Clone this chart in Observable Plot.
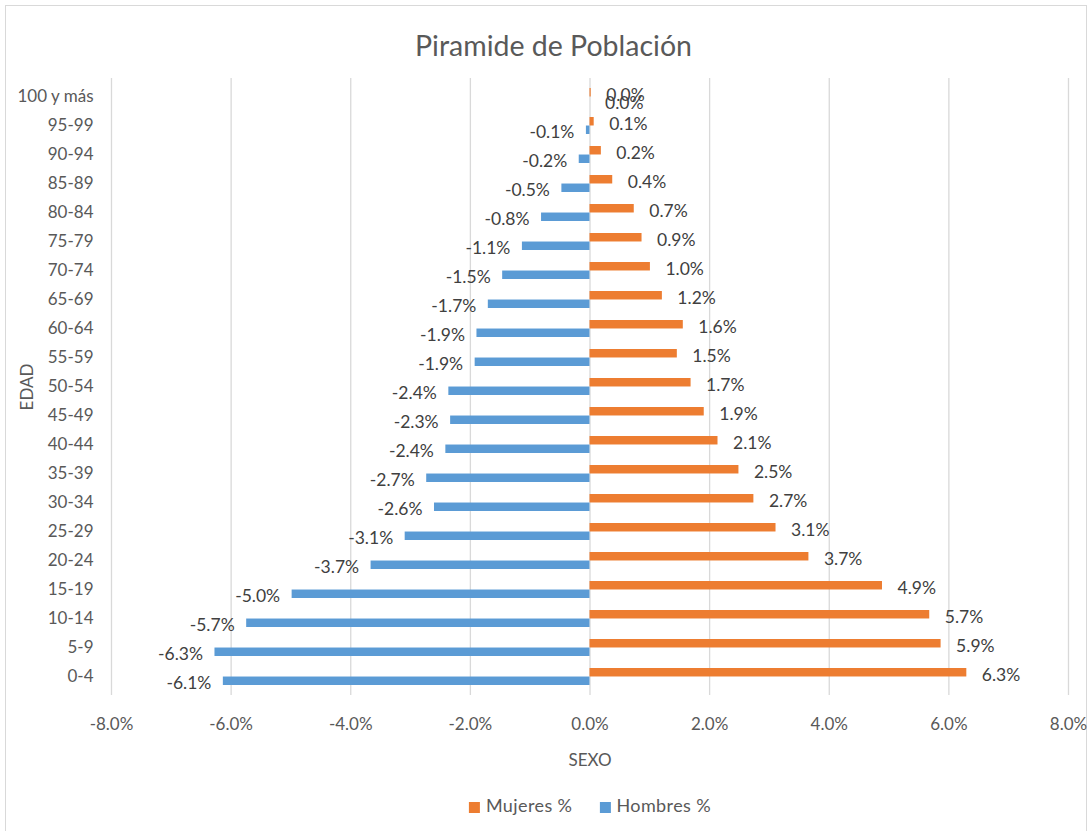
<!DOCTYPE html>
<html>
<head>
<meta charset="utf-8">
<script src="https://cdn.jsdelivr.net/npm/d3@7"></script>
<script src="https://cdn.jsdelivr.net/npm/@observablehq/plot@0.6"></script>
<style>
  html, body { margin: 0; padding: 0; background: #fff; }
  #wrap { position: relative; width: 1091px; height: 831px; overflow: hidden; font-family: Lato, "Open Sans", sans-serif; }
  #border { position: absolute; left: 5px; top: 5px; width: 1082px; height: 860px; border: 1px solid #d9d9d9; box-sizing: border-box; }
  #title { position: absolute; left: 0; top: 26px; width: 1091px; padding-left: 16px; box-sizing: border-box; text-align: center; font-size: 28.5px; color: #595959; line-height: 38px; }
  #chart { position: absolute; left: 0; top: 60px; }
  #legend { position: absolute; left: 590px; top: 794px; transform: translateX(-50%); display: flex; align-items: center; gap: 27px; font-size: 18px; letter-spacing: 0.4px; color: #595959; white-space: nowrap; line-height: 22px; }
  .sw { display: inline-block; width: 11px; height: 11px; margin-right: 6px; vertical-align: -1px; }
</style>
</head>
<body>
<div id="wrap">
  <div id="border"></div>
  <div id="title">Piramide de Población</div>
  <div id="chart"></div>
  <div id="legend">
    <span><span class="sw" style="background:#ED7D31"></span>Mujeres %</span>
    <span><span class="sw" style="background:#5B9BD5"></span>Hombres %</span>
  </div>
</div>
<script>
const ages = ["0-4","5-9","10-14","15-19","20-24","25-29","30-34","35-39","40-44","45-49","50-54","55-59","60-64","65-69","70-74","75-79","80-84","85-89","90-94","95-99","100 y más"];
const mujeres = [6.30,5.87,5.68,4.89,3.66,3.11,2.74,2.49,2.14,1.91,1.69,1.46,1.56,1.21,1.01,0.87,0.74,0.38,0.19,0.07,0.02];
const hombres = [-6.13,-6.27,-5.74,-4.98,-3.66,-3.09,-2.60,-2.73,-2.41,-2.33,-2.36,-1.92,-1.89,-1.70,-1.46,-1.13,-0.81,-0.47,-0.18,-0.06,0];
const xTicks = [-8,-6,-4,-2,0,2,4,6,8];

const women = ages.map((a, i) => ({age: a, v: mujeres[i]}));
const men = ages.map((a, i) => ({age: a, v: hombres[i]}));
const fmt = v => v.toFixed(1) + "%";

const H = 720, mT = 18, mB = 85;
const step = (H - mT - mB) / ages.length;
const bw = step * 0.58;
const half = bw / 2;

const chart = Plot.plot({
  width: 1091,
  height: H,
  marginLeft: 111,
  marginRight: 23,
  marginTop: mT,
  marginBottom: mB,
  style: {fontFamily: "Lato, 'Open Sans', sans-serif", fontSize: "17px", color: "#595959", background: "transparent", overflow: "visible"},
  x: {domain: [-8, 8]},
  y: {domain: ages.slice().reverse(), paddingInner: 0.42, paddingOuter: 0.21},
  marks: [
    Plot.gridX(xTicks, {stroke: "#d9d9d9", strokeOpacity: 1, strokeWidth: 1.3}),
    Plot.barX(women, {x: "v", y: "age", fill: "#ED7D31", insetBottom: half}),
    Plot.barX(men, {x: "v", y: "age", fill: "#5B9BD5", insetTop: half}),
    Plot.text(women, {x: "v", y: "age", text: d => fmt(d.v), textAnchor: "start", dx: 15, dy: -2, fill: "#404040", fontSize: 17.5}),
    Plot.text(men.filter(d => d.v < 0), {x: "v", y: "age", text: d => fmt(d.v), textAnchor: "end", dx: -12, dy: 6, fill: "#404040", fontSize: 17.5}),
    Plot.text(men.filter(d => d.v >= 0), {x: "v", y: "age", text: d => fmt(d.v), textAnchor: "start", dx: 15, dy: 6, fill: "#404040", fontSize: 17.5}),
    Plot.axisX(xTicks, {tickSize: 0, tickPadding: 22, tickFormat: fmt, label: "SEXO", labelAnchor: "center", labelOffset: 70, labelArrow: "none", fill: "#595959"}),
    Plot.axisY({tickSize: 0, tickPadding: 18, label: "EDAD", labelAnchor: "center", labelOffset: 91, labelArrow: "none", fill: "#595959"})
  ]
});
document.getElementById("chart").appendChild(chart);
</script>
</body>
</html>
